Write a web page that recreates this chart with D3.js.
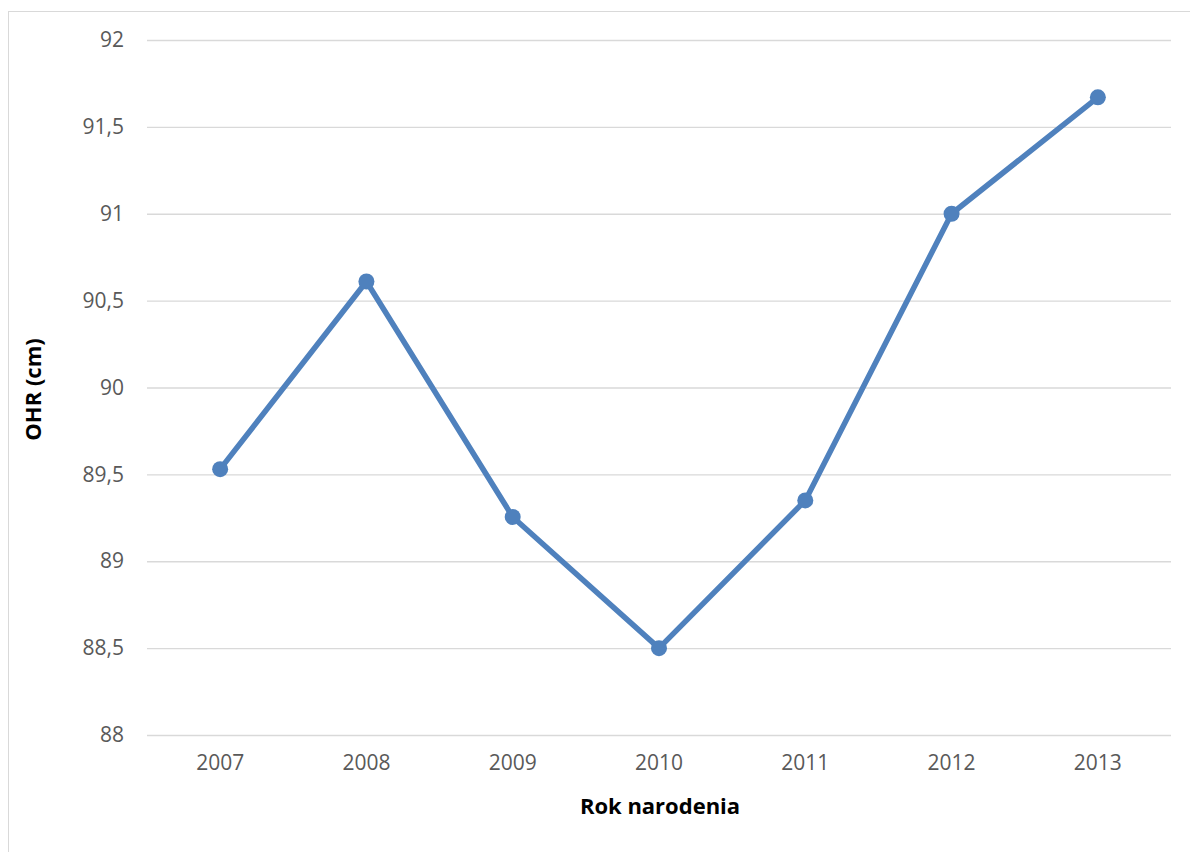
<!DOCTYPE html>
<html>
<head>
<meta charset="utf-8">
<script src="https://cdn.jsdelivr.net/npm/d3@7"></script>
<style>
  html, body { margin: 0; padding: 0; background: #fff; }
  svg { display: block; }
</style>
</head>
<body>
<svg id="chart" width="1190" height="852"></svg>
<script>
// Priemerný obvod hrudníka podľa roku narodenia
const years = ["2007", "2008", "2009", "2010", "2011", "2012", "2013"];
const ohrValues = [89.53, 90.61, 89.255, 88.5, 89.35, 91.0, 91.67];
const yTicks = [88, 88.5, 89, 89.5, 90, 90.5, 91, 91.5, 92];
const xTitle = "Rok narodenia";
const yTitle = "OHR (cm)";

const svg = d3.select("#chart");
const W = 1190, H = 852;
const margin = { left: 147, right: 19, top: 40, bottom: 117 };
const plotW = W - margin.left - margin.right;
const plotH = H - margin.top - margin.bottom;
const font = "'Open Sans', 'Noto Sans', sans-serif";

// outer chart frame
svg.append("rect")
  .attr("x", 8.5).attr("y", 11.5)
  .attr("width", W).attr("height", H)
  .attr("fill", "none").attr("stroke", "#d9d9d9").attr("stroke-width", 1);

const g = svg.append("g").attr("transform", `translate(${margin.left},${margin.top})`);

const x = d3.scaleBand().domain(years).range([0, plotW]);
const y = d3.scaleLinear().domain([88, 92]).range([plotH, 0]);

const fmt = d => d3.format("")(d).replace(".", ",");

// horizontal gridlines with tick labels
const yAxis = d3.axisLeft(y).tickValues(yTicks).tickSize(-plotW).tickPadding(23).tickFormat(fmt);
g.append("g").call(yAxis)
  .call(a => a.select(".domain").remove())
  .call(a => a.selectAll("line").attr("stroke", "#d9d9d9").attr("stroke-width", 1.3))
  .call(a => a.selectAll("text").attr("fill", "#595959").attr("font-size", 21).attr("font-family", font));

// category labels
const xAxis = d3.axisBottom(x).tickSize(0).tickPadding(20);
g.append("g").attr("transform", `translate(0,${plotH})`).call(xAxis)
  .call(a => a.select(".domain").remove())
  .call(a => a.selectAll("text").attr("fill", "#595959").attr("font-size", 21).attr("font-family", font));

// series line
const cx = d => x(d) + x.bandwidth() / 2;
const line = d3.line().x((d, i) => cx(years[i])).y(d => y(d));
g.append("path").datum(ohrValues)
  .attr("d", line)
  .attr("fill", "none")
  .attr("stroke", "#4f81bd")
  .attr("stroke-width", 5.5)
  .attr("stroke-linejoin", "round");

// markers
g.selectAll("circle.pt").data(ohrValues).enter().append("circle")
  .attr("class", "pt")
  .attr("cx", (d, i) => cx(years[i]))
  .attr("cy", d => y(d))
  .attr("r", 8)
  .attr("fill", "#4f81bd");

// axis titles
svg.append("text")
  .attr("x", margin.left + plotW / 2 + 1).attr("y", 814)
  .attr("text-anchor", "middle")
  .attr("font-family", font).attr("font-weight", "bold").attr("font-size", 22)
  .attr("fill", "#000")
  .text(xTitle);

svg.append("text")
  .attr("transform", `translate(41,${margin.top + plotH / 2 + 2}) rotate(-90)`)
  .attr("text-anchor", "middle")
  .attr("font-family", font).attr("font-weight", "bold").attr("font-size", 22)
  .attr("fill", "#000")
  .text(yTitle);
</script>
</body>
</html>
